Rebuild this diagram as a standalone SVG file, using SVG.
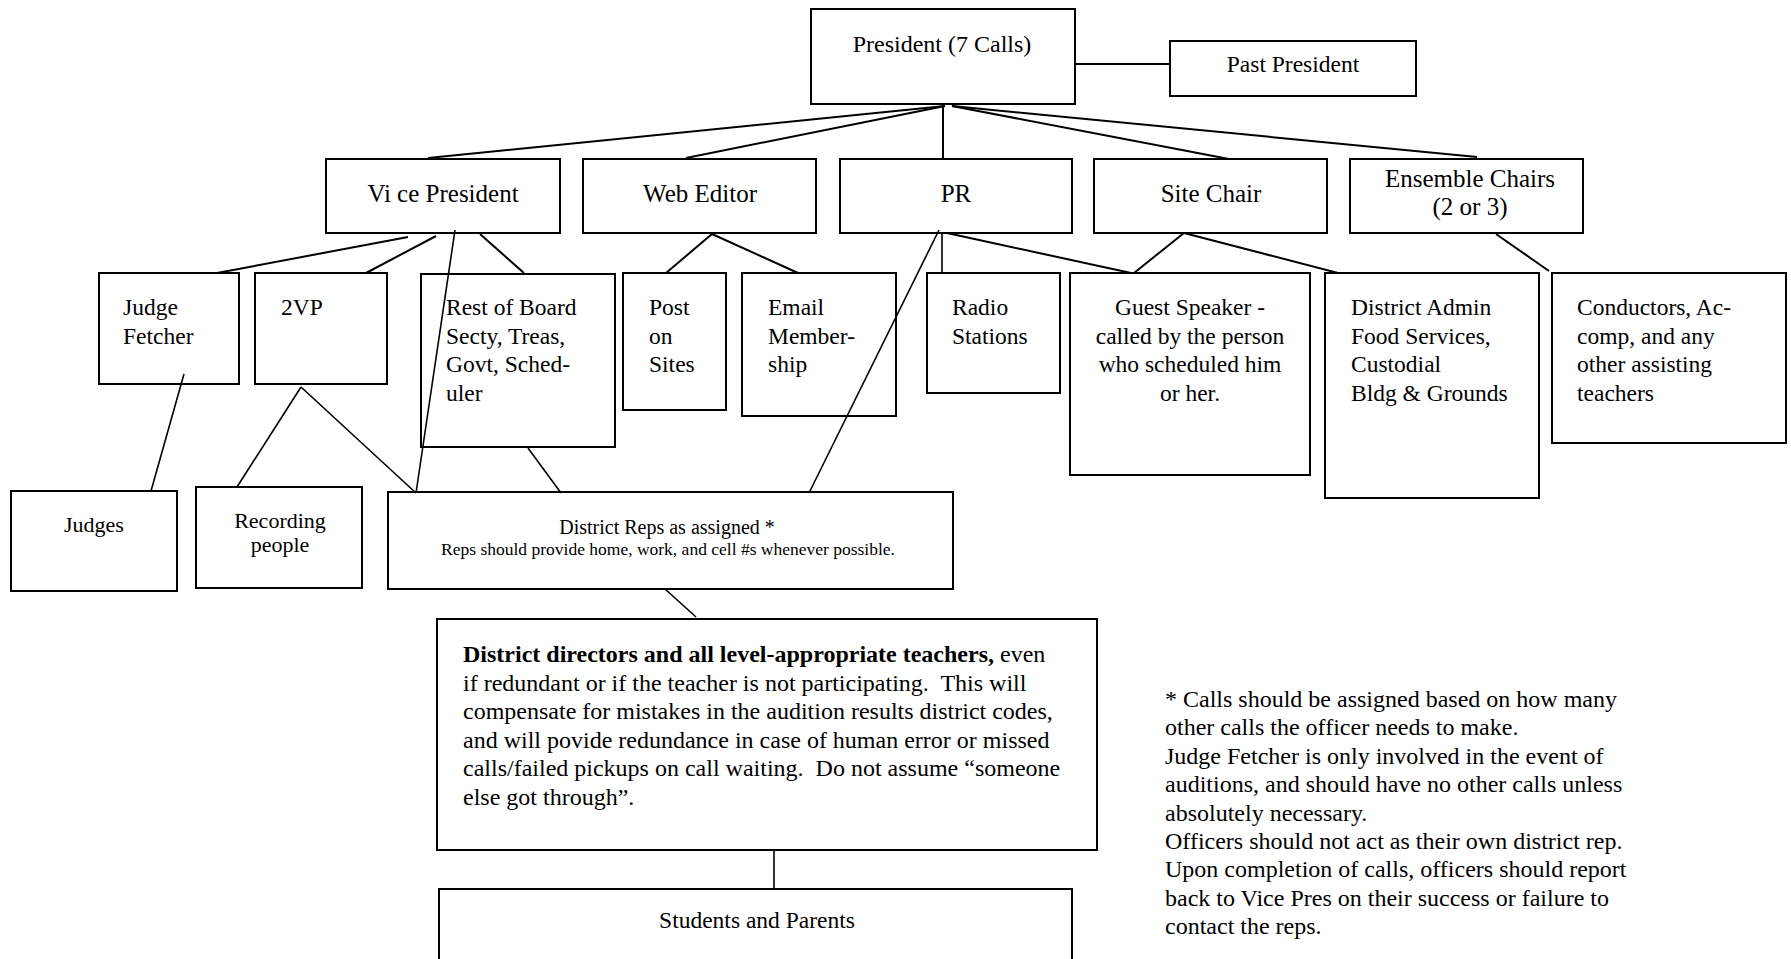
<svg xmlns="http://www.w3.org/2000/svg" width="1791" height="959" viewBox="0 0 1791 959">
<style>
  rect { fill: none; stroke: #000; stroke-width: 2; }
  text { font-family: "Liberation Serif", "Times New Roman", serif; fill: #000; white-space: pre; }
  .t2 { font-size: 25px; text-anchor: middle; }
  .t3 { font-size: 23.5px; }
  .c { text-anchor: middle; }
  .t4 { font-size: 22px; text-anchor: middle; }
  .n { font-size: 24px; }
  #connectors line { stroke: #000; stroke-width: 2; }
  #connectors line.thin { stroke-width: 1.6; }
</style>
<rect x="0" y="0" width="1791" height="959" style="fill:#fff;stroke:none"/>
<g id="connectors">
  <line x1="945" y1="106" x2="428" y2="158"/>
  <line x1="945" y1="106" x2="686" y2="158"/>
  <line x1="943" y1="104" x2="943" y2="159"/>
  <line x1="952" y1="106" x2="1229" y2="159"/>
  <line x1="952" y1="106" x2="1477" y2="157"/>
  <line x1="1075" y1="64" x2="1170" y2="64"/>
  <line x1="408" y1="237" x2="217" y2="273"/>
  <line x1="436" y1="236" x2="366" y2="273"/>
  <line x1="480" y1="234" x2="524" y2="273"/>
  <line class="thin" x1="455" y1="230" x2="416" y2="493"/>
  <line x1="712" y1="234" x2="666" y2="273"/>
  <line x1="712" y1="234" x2="798" y2="273"/>
  <line class="thin" x1="942" y1="233" x2="942" y2="273"/>
  <line x1="947" y1="233" x2="1131" y2="273"/>
  <line class="thin" x1="939" y1="230" x2="809" y2="493"/>
  <line x1="1184" y1="233" x2="1134" y2="273"/>
  <line x1="1184" y1="233" x2="1338" y2="273"/>
  <line x1="1496" y1="234" x2="1549" y2="271"/>
  <line class="thin" x1="184" y1="374" x2="151" y2="491"/>
  <line class="thin" x1="301" y1="387" x2="237" y2="487"/>
  <line class="thin" x1="301" y1="387" x2="416" y2="493"/>
  <line class="thin" x1="528" y1="448" x2="561" y2="493"/>
  <line class="thin" x1="665" y1="589" x2="696" y2="617"/>
  <line class="thin" x1="774" y1="850" x2="774" y2="889"/>
</g>
<g id="president">
  <rect x="811" y="9" width="264" height="95"/>
  <text x="942" y="52" class="c" font-size="24">President (7 Calls)</text>
</g>
<g id="past-president">
  <rect x="1170" y="41" width="246" height="55"/>
  <text x="1293" y="72" class="c" font-size="23.5">Past President</text>
</g>
<g id="vice-president">
  <rect x="326" y="159" width="234" height="74"/>
  <text x="443" y="202" class="t2">Vi ce President</text>
</g>
<g id="web-editor">
  <rect x="583" y="159" width="233" height="74"/>
  <text x="700" y="202" class="t2">Web Editor</text>
</g>
<g id="pr">
  <rect x="840" y="159" width="232" height="74"/>
  <text x="956" y="202" class="t2">PR</text>
</g>
<g id="site-chair">
  <rect x="1094" y="159" width="233" height="74"/>
  <text x="1211" y="202" class="t2">Site Chair</text>
</g>
<g id="ensemble-chairs">
  <rect x="1350" y="159" width="233" height="74"/>
  <text x="1470" y="187" class="t2" font-size="24">Ensemble Chairs</text>
  <text x="1470" y="215" class="t2" font-size="24">(2 or 3)</text>
</g>
<g id="judge-fetcher">
  <rect x="99" y="273" width="140" height="111"/>
  <text x="123" y="315" class="t3">Judge</text>
  <text x="123" y="343.5" class="t3">Fetcher</text>
</g>
<g id="vp2">
  <rect x="255" y="273" width="132" height="111"/>
  <text x="281" y="315" class="t3">2VP</text>
</g>
<g id="rest-of-board">
  <rect x="421" y="274" width="194" height="173"/>
  <text x="446" y="315" class="t3">Rest of Board</text>
  <text x="446" y="343.5" class="t3">Secty, Treas,</text>
  <text x="446" y="372" class="t3">Govt, Sched-</text>
  <text x="446" y="400.5" class="t3">uler</text>
</g>
<g id="post-on-sites">
  <rect x="623" y="273" width="103" height="137"/>
  <text x="649" y="315" class="t3">Post</text>
  <text x="649" y="343.5" class="t3">on</text>
  <text x="649" y="372" class="t3">Sites</text>
</g>
<g id="email-membership">
  <rect x="742" y="273" width="154" height="143"/>
  <text x="768" y="315" class="t3">Email</text>
  <text x="768" y="343.5" class="t3">Member-</text>
  <text x="768" y="372" class="t3">ship</text>
</g>
<g id="radio-stations">
  <rect x="927" y="273" width="133" height="120"/>
  <text x="952" y="315" class="t3">Radio</text>
  <text x="952" y="343.5" class="t3">Stations</text>
</g>
<g id="guest-speaker">
  <rect x="1070" y="273" width="240" height="202"/>
  <text x="1190" y="315" class="t3 c">Guest Speaker -</text>
  <text x="1190" y="343.5" class="t3 c">called by the person</text>
  <text x="1190" y="372" class="t3 c">who scheduled him</text>
  <text x="1190" y="400.5" class="t3 c">or her.</text>
</g>
<g id="district-admin">
  <rect x="1325" y="273" width="214" height="225"/>
  <text x="1351" y="315" class="t3">District Admin</text>
  <text x="1351" y="343.5" class="t3">Food Services,</text>
  <text x="1351" y="372" class="t3">Custodial</text>
  <text x="1351" y="400.5" class="t3">Bldg &amp; Grounds</text>
</g>
<g id="conductors">
  <rect x="1552" y="273" width="234" height="170"/>
  <text x="1577" y="315" class="t3">Conductors, Ac-</text>
  <text x="1577" y="343.5" class="t3">comp, and any</text>
  <text x="1577" y="372" class="t3">other assisting</text>
  <text x="1577" y="400.5" class="t3">teachers</text>
</g>
<g id="judges">
  <rect x="11" y="491" width="166" height="100"/>
  <text x="94" y="532" class="t4">Judges</text>
</g>
<g id="recording-people">
  <rect x="196" y="487" width="166" height="101"/>
  <text x="280" y="528" class="t4">Recording</text>
  <text x="280" y="552" class="t4">people</text>
</g>
<g id="district-reps">
  <rect x="388" y="492" width="565" height="97"/>
  <text x="667" y="534" class="c" font-size="20">District Reps as assigned *</text>
  <text x="668" y="555" class="c" font-size="17.5">Reps should provide home, work, and cell #s whenever possible.</text>
</g>
<g id="district-directors">
  <rect x="437" y="619" width="660" height="231"/>
  <text x="463" y="662" class="n"><tspan font-weight="bold">District directors and all level-appropriate teachers,</tspan> even</text>
  <text x="463" y="690.6" class="n">if redundant or if the teacher is not participating.  This will</text>
  <text x="463" y="719.2" class="n">compensate for mistakes in the audition results district codes,</text>
  <text x="463" y="747.8" class="n">and will povide redundance in case of human error or missed</text>
  <text x="463" y="776.4" class="n">calls/failed pickups on call waiting.  Do not assume “someone</text>
  <text x="463" y="805" class="n">else got through”.</text>
</g>
<g id="students-parents">
  <rect x="439" y="889" width="633" height="90"/>
  <text x="757" y="928" class="c" font-size="23.5">Students and Parents</text>
</g>
<g id="notes">
  <text x="1165" y="707" class="n">* Calls should be assigned based on how many</text>
  <text x="1165" y="735.4" class="n">other calls the officer needs to make.</text>
  <text x="1165" y="763.8" class="n">Judge Fetcher is only involved in the event of</text>
  <text x="1165" y="792.2" class="n">auditions, and should have no other calls unless</text>
  <text x="1165" y="820.6" class="n">absolutely necessary.</text>
  <text x="1165" y="849" class="n">Officers should not act as their own district rep.</text>
  <text x="1165" y="877.4" class="n">Upon completion of calls, officers should report</text>
  <text x="1165" y="905.8" class="n">back to Vice Pres on their success or failure to</text>
  <text x="1165" y="934.2" class="n">contact the reps.</text>
</g>
</svg>
